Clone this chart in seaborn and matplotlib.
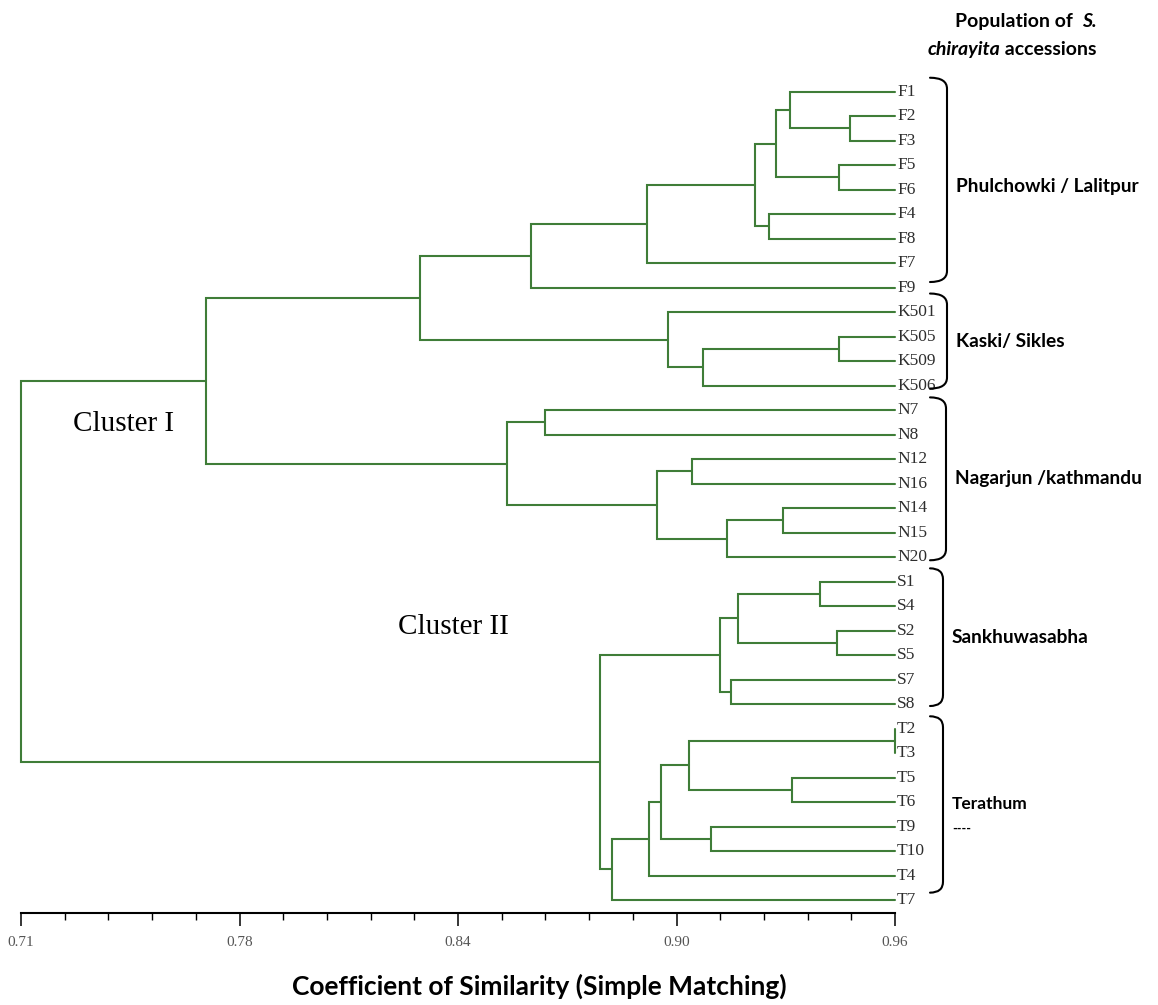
import numpy as np
import pandas as pd
import matplotlib
matplotlib.use("Agg")
import matplotlib.pyplot as plt
import seaborn as sns
from matplotlib.path import Path
from matplotlib.patches import PathPatch
from matplotlib.transforms import offset_copy

# ---------------- data ----------------
leaves = ["F1", "F2", "F3", "F5", "F6", "F4", "F8", "F7", "F9",
          "K501", "K505", "K509", "K506",
          "N7", "N8", "N12", "N16", "N14", "N15", "N20",
          "S1", "S4", "S2", "S5", "S7", "S8",
          "T2", "T3", "T5", "T6", "T9", "T10", "T4", "T7"]

# UPGMA merges: node name, its two children and the similarity at which they join
node_names = ["F23", "F13", "F56", "F16", "F48", "F18", "F17", "Fall",
              "K59", "K56", "Kall", "FK",
              "N78", "N1216", "N1415", "N1420", "N1220", "Nall", "C1",
              "S14", "S25", "S15", "S78", "Sall",
              "T23", "T56", "T26", "T910", "T210", "T24", "Tall", "C2",
              "root"]
node_left = ["F2", "F1", "F5", "F13", "F4", "F16", "F18", "F17",
             "K505", "K59", "K501", "Fall",
             "N7", "N12", "N14", "N1415", "N1216", "N78", "FK",
             "S1", "S2", "S14", "S7", "S15",
             "T2", "T5", "T23", "T9", "T26", "T210", "T24", "Sall",
             "C1"]
node_right = ["F3", "F23", "F6", "F56", "F8", "F48", "F7", "F9",
              "K509", "K506", "K56", "Kall",
              "N8", "N16", "N15", "N20", "N1420", "N1220", "Nall",
              "S4", "S5", "S25", "S8", "S78",
              "T3", "T6", "T56", "T10", "T910", "T4", "T7", "Tall",
              "C2"]
node_similarity = [0.947, 0.930, 0.944, 0.926, 0.924, 0.920, 0.889, 0.856,
                   0.944, 0.905, 0.895, 0.824,
                   0.860, 0.902, 0.928, 0.912, 0.892, 0.849, 0.763,
                   0.9385, 0.9435, 0.915, 0.913, 0.910,
                   0.960, 0.9305, 0.901, 0.9075, 0.893, 0.8895, 0.879, 0.8755,
                   0.710]

sim_min, sim_max = 0.71, 0.96
tick_labels = ["0.71", "0.78", "0.84", "0.90", "0.96"]

group_names = ["Phulchowki / Lalitpur", "Kaski/ Sikles", "Nagarjun /kathmandu",
               "Sankhuwasabha", "Terathum"]
group_first = ["F1", "K501", "N7", "S1", "T2"]
group_last = ["F9", "K506", "N20", "S8", "T4"]

# ---------------- dendrogram geometry ----------------
ypos = {name: i for i, name in enumerate(leaves)}
xpos = {name: sim_max for name in leaves}
rows = []
for name, left, right, sim in zip(node_names, node_left, node_right, node_similarity):
    ypos[name] = (ypos[left] + ypos[right]) / 2
    xpos[name] = sim
    pts = [(xpos[left], ypos[left]), (sim, ypos[left]),
           (sim, ypos[right]), (xpos[right], ypos[right])]
    for k, (x, y) in enumerate(pts):
        rows.append({"link": name, "step": k, "x": x, "y": y})
links = pd.DataFrame(rows)

# ---------------- figure ----------------
sns.set_theme(style="ticks")
plt.rcParams["font.family"] = ["Lato", "DejaVu Sans"]

W, H = 1158, 1005
fig = plt.figure(figsize=(W / 100, H / 100), dpi=100)
fig.patch.set_facecolor("white")

x0_px, x1_px = 21, 895
leaf_top_px, leaf_bot_px = 91.7, 900
axis_px = 913
top_px = 40
n = len(leaves)
step_px = (leaf_bot_px - leaf_top_px) / (n - 1)

ax = fig.add_axes([x0_px / W, 1 - axis_px / H, (x1_px - x0_px) / W, (axis_px - top_px) / H])
ax.set_facecolor("white")

green = "#3f7d38"
sns.lineplot(data=links, x="x", y="y", units="link", estimator=None, sort=False,
             color=green, linewidth=1.5, ax=ax, legend=False)
for ln in ax.lines:
    ln.set_clip_on(False)
    ln.set_solid_joinstyle("miter")

ax.set_xlim(sim_min, sim_max)
ax.set_ylim((n - 1) + (axis_px - leaf_bot_px) / step_px, -(leaf_top_px - top_px) / step_px)

for s in ["top", "left", "right"]:
    ax.spines[s].set_visible(False)
ax.spines["bottom"].set_color("black")
ax.spines["bottom"].set_linewidth(1.5)
ax.spines["bottom"].set_clip_on(False)

ax.set_yticks([])
ax.set_xticks(np.linspace(sim_min, sim_max, len(tick_labels)))
ax.set_xticklabels(tick_labels)
ax.set_xticks(np.linspace(sim_min, sim_max, 5 * (len(tick_labels) - 1) + 1), minor=True)
ax.tick_params(axis="x", which="major", bottom=True, direction="out", length=9.5,
               width=1.1, color="black", pad=7, labelsize=11, labelcolor="#555555")
ax.tick_params(axis="x", which="minor", bottom=True, direction="out", length=5,
               width=1.0, color="black")
for lab in ax.get_xticklabels():
    lab.set_fontfamily("Liberation Serif")
ax.set_xlabel("")
ax.set_ylabel("")

# leaf names at the tips
tip_tr = offset_copy(ax.transData, fig=fig, x=2, y=0, units="dots")
for i, name in enumerate(leaves):
    ax.text(sim_max, i, name, transform=tip_tr, ha="left", va="center",
            fontsize=12.5, color="#2e2e2e", family="Liberation Serif", clip_on=False)


def fxy(xp, yp):
    return xp / W, 1 - yp / H


def leaf_px(name):
    return leaf_top_px + leaves.index(name) * step_px


# population braces and labels
brace_pad_top = [0.57, 0.76, 0.52, 0.54, 0.50]
brace_pad_bottom = [-0.23, 0.12, 0.13, 0.08, 0.70]
brace_x = [947, 947, 946, 943, 943]
brace_start = 930
brace_r = 11
for gi, gname in enumerate(group_names):
    yt = leaf_px(group_first[gi]) - brace_pad_top[gi] * step_px
    yb = leaf_px(group_last[gi]) + brace_pad_bottom[gi] * step_px
    xv = brace_x[gi]
    verts = [fxy(brace_start, yt), fxy(xv, yt), fxy(xv, yt + brace_r),
             fxy(xv, yb - brace_r), fxy(xv, yb), fxy(brace_start, yb)]
    codes = [Path.MOVETO, Path.CURVE3, Path.CURVE3, Path.LINETO, Path.CURVE3, Path.CURVE3]
    fig.patches.append(PathPatch(Path(verts, codes), transform=fig.transFigure,
                                 fill=False, edgecolor="black", linewidth=1.5,
                                 capstyle="round", figure=fig))
    ymid = (yt + yb) / 2
    size = 12.5 if gname == "Terathum" else 13.8
    if gname.startswith("Phulchowki"):
        ymid += 7
    fig.text(*fxy(xv + 9, ymid), gname, ha="left", va="center", fontsize=size,
             fontweight="bold", color="black")
    if gname == "Terathum":
        fig.text(*fxy(xv + 9, ymid + 24), "----", ha="left", va="center",
                 fontsize=9, fontweight="bold", color="black")

# cluster names
fig.text(*fxy(73, 424), "Cluster I", ha="left", va="center", fontsize=21,
         family="Liberation Serif", color="black")
fig.text(*fxy(398, 627), "Cluster II", ha="left", va="center", fontsize=21,
         family="Liberation Serif", color="black")

# heading, with the species name in italics
renderer = fig.canvas.get_renderer()


def rich_line(pieces, x_right, y_base, size):
    texts = []
    for txt, style in pieces:
        t = fig.text(0, 0, txt, fontsize=size, fontweight="bold", fontstyle=style,
                     ha="left", va="baseline", color="black")
        texts.append(t)
    widths = [t.get_window_extent(renderer).width for t in texts]
    x = x_right - sum(widths)
    for t, w in zip(texts, widths):
        t.set_position(fxy(x, y_base))
        x += w


rich_line([("Population of  ", "normal"), ("S.", "italic")], 1097, 27, 14)
rich_line([("chirayita", "italic"), (" accessions", "normal")], 1097, 55, 14)

fig.text(*fxy(292, 995), "Coefficient of Similarity (Simple Matching)", ha="left",
         va="baseline", fontsize=19, fontweight="bold", color="black")

fig.savefig("out.png", dpi=100, facecolor="white")
